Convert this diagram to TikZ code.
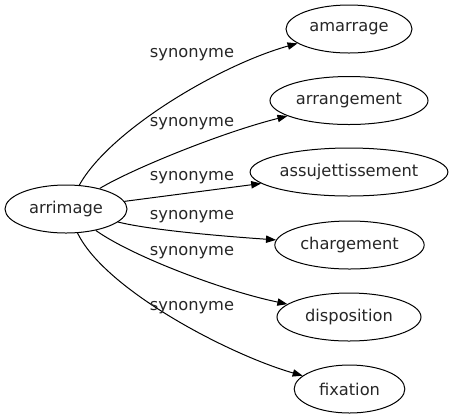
\documentclass[tikz,border=0pt]{standalone}
\usepackage{fontspec}
\setmainfont{DejaVu Sans}
\usetikzlibrary{shapes.geometric,arrows.meta}
\begin{document}
\begin{tikzpicture}[x=0.75pt,y=0.75pt,yscale=-1,xscale=1,
	word/.style={draw,ellipse,inner sep=0.5pt,minimum height=36pt,line width=0.75,font=\fontsize{12.2}{14}\selectfont,text=black!85},
	rel/.style={inner sep=0.75pt,font=\fontsize{12.2}{14}\selectfont,text=black!85},
	syn/.style={draw,line width=0.75,-{Triangle[length=7.5pt,width=5.5pt]}}]
	\useasboundingbox (0,0) rectangle (453,419);

	% Ellipse nodes
	\node [word,minimum width=91.5pt] (arrimage) at (66,209) {arrimage};
	\node [word,minimum width=94.5pt] (amarrage) at (349,29) {amarrage};
	\node [word,minimum width=118.5pt] (arrangement) at (349,100.5) {arrangement};
	\node [word,minimum width=147pt] (assujettissement) at (349,172) {assujettissement};
	\node [word,minimum width=112pt] (chargement) at (349.5,245) {chargement};
	\node [word,minimum width=108pt] (disposition) at (349,317) {disposition};
	\node [word,minimum width=83pt] (fixation) at (349.5,389) {fixation};

	% Curves
	\draw [syn] (arrimage) .. controls (110,130) and (220,65) .. (amarrage);
	\draw [syn] (arrimage) .. controls (130,170) and (220,133) .. (arrangement);
	\draw [syn] (arrimage) -- (assujettissement);
	\draw [syn] (arrimage) .. controls (150,230) and (220,236) .. (chargement);
	\draw [syn] (arrimage) .. controls (130,255) and (220,290) .. (disposition);
	\draw [syn] (arrimage) .. controls (105,290) and (230,355) .. (fixation);

	% Text Node
	\node [rel] (s1) at (192,55) {synonyme};
	% Text Node
	\node [rel] (s2) at (192,124) {synonyme};
	% Text Node
	\node [rel] (s3) at (192,178) {synonyme};
	% Text Node
	\node [rel] (s4) at (192,216.5) {synonyme};
	% Text Node
	\node [rel] (s5) at (192,253) {synonyme};
	% Text Node
	\node [rel] (s6) at (192,308) {synonyme};

\end{tikzpicture}
\end{document}
